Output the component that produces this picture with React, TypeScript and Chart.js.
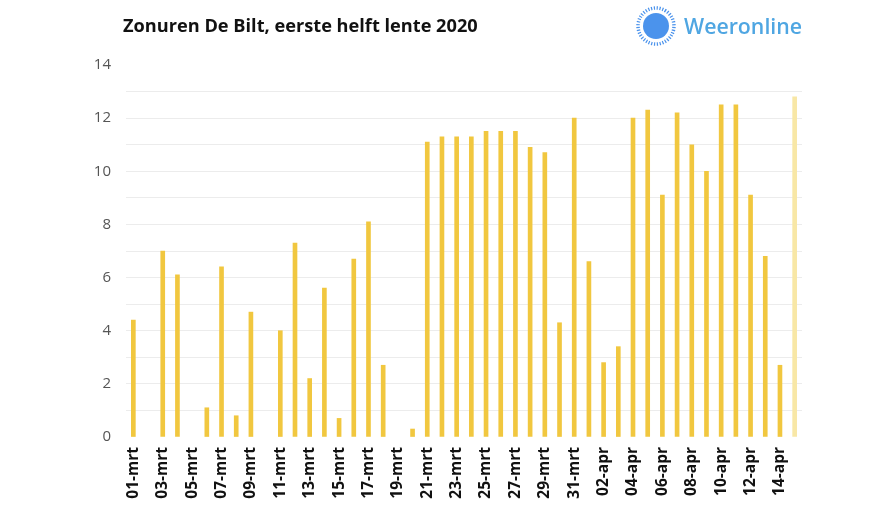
import React, { useEffect, useRef } from "react";
import { Chart, registerables } from "chart.js";

Chart.register(...registerables);

const categories: string[] = [
  "01-mrt","02-mrt","03-mrt","04-mrt","05-mrt","06-mrt","07-mrt","08-mrt","09-mrt","10-mrt",
  "11-mrt","12-mrt","13-mrt","14-mrt","15-mrt","16-mrt","17-mrt","18-mrt","19-mrt","20-mrt",
  "21-mrt","22-mrt","23-mrt","24-mrt","25-mrt","26-mrt","27-mrt","28-mrt","29-mrt","30-mrt",
  "31-mrt","01-apr","02-apr","03-apr","04-apr","05-apr","06-apr","07-apr","08-apr","09-apr",
  "10-apr","11-apr","12-apr","13-apr","14-apr","15-apr",
];

const sunHours: (number | null)[] = [
  4.4, null, 7.0, 6.1, null, 1.1, 6.4, 0.8, 4.7, null,
  4.0, 7.3, 2.2, 5.6, 0.7, 6.7, 8.1, 2.7, null, 0.3,
  11.1, 11.3, 11.3, 11.3, 11.5, 11.5, 11.5, 10.9, 10.7, 4.3,
  12.0, 6.6, 2.8, 3.4, 12.0, 12.3, 9.1, 12.2, 11.0, 10.0,
  12.5, 12.5, 9.1, 6.8, 2.7, 12.8,
];

const yTicks: number[] = [0, 2, 4, 6, 8, 10, 12, 14];

const BAR = "#F1C73F";
const BAR_LIGHT = "#F8E7A6";

export default function App() {
  const ref = useRef<HTMLCanvasElement | null>(null);

  useEffect(() => {
    document.body.style.margin = "0";
    if (!ref.current) return;
    const chart = new Chart(ref.current, {
      type: "bar",
      data: {
        labels: categories,
        datasets: [
          {
            data: sunHours,
            backgroundColor: sunHours.map((_, i) => (i === sunHours.length - 1 ? BAR_LIGHT : BAR)),
            barThickness: 4,
            borderWidth: 0,
          },
        ],
      },
      options: {
        animation: false,
        responsive: false,
        maintainAspectRatio: false,
        layout: { padding: { top: 65, right: 94, left: 0, bottom: 0 } },
        plugins: {
          legend: { display: false },
          tooltip: { enabled: false },
          title: { display: false },
        },
        scales: {
          x: {
            grid: { display: false, drawTicks: false },
            border: { display: false },
            afterFit: (s: any) => {
              s.height = 71;
            },
            ticks: {
              autoSkip: false,
              maxRotation: 90,
              minRotation: 90,
              padding: 10,
              color: "#111",
              font: { family: "'Open Sans'", size: 15.5, weight: "bold" },
              callback: (_v: any, i: number) => (i % 2 === 0 ? categories[i] : ""),
            },
          },
          y: {
            min: 0,
            max: 14,
            border: { display: false },
            afterFit: (s: any) => {
              s.width = 126;
            },
            grid: {
              drawTicks: false,
              color: (ctx: any) =>
                ctx.tick && (ctx.tick.value === 0 || ctx.tick.value === 14) ? "rgba(0,0,0,0)" : "#ececec",
              lineWidth: 1,
            },
            ticks: {
              stepSize: 1,
              padding: 15,
              color: "#555",
              font: { family: "'Open Sans'", size: 15 },
              callback: (v: any) => (yTicks.includes(Number(v)) ? String(v) : ""),
            },
          },
        },
      },
    });
    return () => chart.destroy();
  }, []);

  return (
    <div style={{ position: "relative", width: 896, height: 508, background: "#fff", overflow: "hidden" }}>
      <canvas ref={ref} width={896} height={508} style={{ position: "absolute", left: 0, top: 0, width: 896, height: 508 }} />
      <div
        style={{
          position: "absolute",
          left: 123,
          top: 13,
          fontFamily: "'Open Sans', sans-serif",
          fontWeight: 700,
          fontSize: 18.2,
          color: "#111",
          whiteSpace: "nowrap",
        }}
      >
        Zonuren De Bilt, eerste helft lente 2020
      </div>
      <svg style={{ position: "absolute", left: 634, top: 4 }} width={44} height={44} viewBox="0 0 44 44">
        <circle cx={22} cy={22} r={13} fill="#4B93EC" />
        <circle
          cx={22}
          cy={22}
          r={18}
          fill="none"
          stroke="#4B93EC"
          strokeWidth={3.5}
          strokeDasharray="1.2 1.6"
          transform="rotate(-60 22 22)"
        />
      </svg>
      <div
        style={{
          position: "absolute",
          left: 684,
          top: 11,
          fontFamily: "'Open Sans', sans-serif",
          fontWeight: 600,
          fontSize: 21.3,
          color: "#4FA6E2",
          whiteSpace: "nowrap",
        }}
      >
        Weeronline
      </div>
    </div>
  );
}
